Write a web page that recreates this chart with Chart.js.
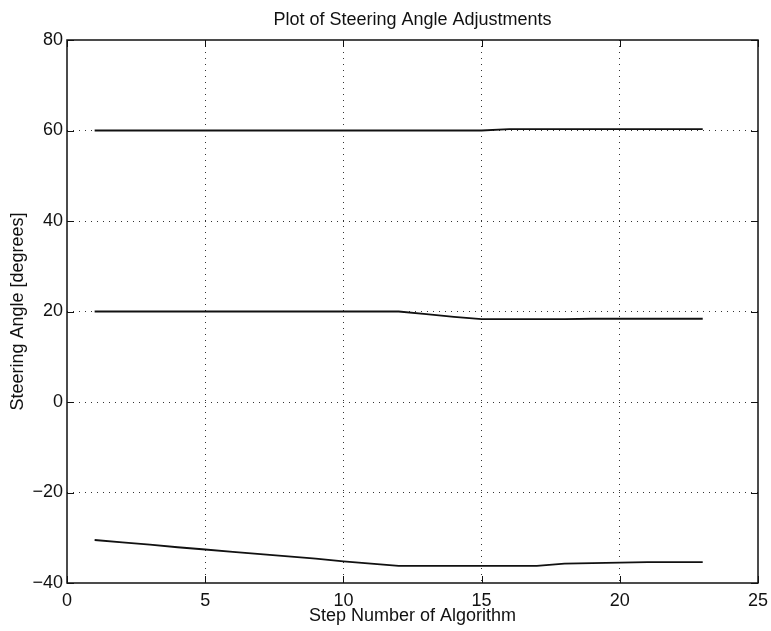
<!DOCTYPE html>
<html>
<head>
<meta charset="utf-8">
<script src="https://cdn.jsdelivr.net/npm/chart.js@4"></script>
<style>
  html, body { margin: 0; padding: 0; background: #fff; }
  #wrap { width: 771px; height: 631px; }
</style>
</head>
<body>
<div id="wrap"><canvas id="chart"></canvas></div>
<script>
const steps = [1, 2, 3, 4, 5, 6, 7, 8, 9, 10, 11, 12, 13, 14, 15, 16, 17, 18, 19, 20, 21, 22, 23];
const upperAngle = [60, 60, 60, 60, 60, 60, 60, 60, 60, 60, 60, 60, 60, 60, 60, 60.3, 60.3, 60.3, 60.3, 60.3, 60.3, 60.3, 60.3];
const middleAngle = [20, 20, 20, 20, 20, 20, 20, 20, 20, 20, 20, 20, 19.4, 18.8, 18.3, 18.3, 18.3, 18.3, 18.4, 18.4, 18.4, 18.4, 18.4];
const lowerAngle = [-30.5, -31.0, -31.5, -32.1, -32.6, -33.1, -33.6, -34.1, -34.6, -35.2, -35.7, -36.2, -36.2, -36.2, -36.2, -36.2, -36.2, -35.7, -35.6, -35.5, -35.4, -35.4, -35.4];
const xTicks = [0, 5, 10, 15, 20, 25];
const yTicks = [-40, -20, 0, 20, 40, 60, 80];

const font = "'Liberation Sans', Arial, Helvetica, sans-serif";

function pts(vals) {
    return steps.map((s, i) => ({ x: s, y: vals[i] }));
}

function line(vals) {
    return {
        data: pts(vals),
        borderColor: '#111',
        borderWidth: 1.8,
        pointRadius: 0,
        tension: 0,
        fill: false
    };
}

// box round the plot and inward tick marks, like the original
const frame = {
    id: 'frame',
    afterDraw(chart) {
        const { ctx, chartArea: a, scales } = chart;
        ctx.save();
        ctx.strokeStyle = '#111';
        ctx.lineWidth = 1.5;
        ctx.strokeRect(a.left, a.top, a.right - a.left, a.bottom - a.top);
        ctx.lineWidth = 1;
        ctx.beginPath();
        xTicks.forEach(v => {
            const px = Math.round(scales.x.getPixelForValue(v)) + 0.5;
            ctx.moveTo(px, a.bottom); ctx.lineTo(px, a.bottom - 7);
            ctx.moveTo(px, a.top); ctx.lineTo(px, a.top + 7);
        });
        yTicks.forEach(v => {
            const py = Math.round(scales.y.getPixelForValue(v)) + 0.5;
            ctx.moveTo(a.left, py); ctx.lineTo(a.left + 7, py);
            ctx.moveTo(a.right, py); ctx.lineTo(a.right - 7, py);
        });
        ctx.stroke();
        ctx.restore();
    }
};

new Chart(document.getElementById('chart'), {
    type: 'line',
    data: { datasets: [line(upperAngle), line(middleAngle), line(lowerAngle)] },
    options: {
        responsive: true,
        maintainAspectRatio: false,
        animation: false,
        layout: { padding: { left: 0, right: 13, top: 0, bottom: 0 } },
        plugins: {
            legend: { display: false },
            tooltip: { enabled: false },
            title: {
                display: true,
                text: 'Plot of Steering Angle Adjustments',
                fullSize: false,
                color: '#111',
                font: { family: font, size: 18, weight: 'normal' },
                padding: { top: 9, bottom: 9.4 }
            }
        },
        scales: {
            x: {
                type: 'linear',
                min: 0, max: 25,
                afterBuildTicks: s => { s.ticks = xTicks.map(v => ({ value: v })); },
                afterFit: s => { s.height = 48; s.paddingRight = 0; s.paddingLeft = 0; },
                grid: {
                    color: c => (c.tick.value === 0 || c.tick.value === 25) ? 'rgba(0,0,0,0)' : '#333',
                    lineWidth: 1,
                    drawTicks: false
                },
                border: { display: false, dash: [1, 5] },
                ticks: { color: '#111', font: { family: font, size: 18 }, padding: 7, maxRotation: 0 },
                title: {
                    display: true,
                    text: 'Step Number of Algorithm',
                    color: '#111',
                    font: { family: font, size: 18 },
                    padding: { top: 0, bottom: 4 }
                }
            },
            y: {
                type: 'linear',
                min: -40, max: 80,
                afterBuildTicks: s => { s.ticks = yTicks.map(v => ({ value: v })); },
                afterFit: s => { s.width = 67; s.paddingTop = 0; s.paddingBottom = 0; },
                grid: {
                    color: c => (c.tick.value === -40 || c.tick.value === 80) ? 'rgba(0,0,0,0)' : '#333',
                    lineWidth: 1,
                    drawTicks: false
                },
                border: { display: false, dash: [1, 5] },
                ticks: {
                    color: '#111',
                    font: { family: font, size: 18 },
                    padding: 4,
                    callback: v => String(v).replace('-', '\u2212')
                },
                title: {
                    display: true,
                    text: 'Steering Angle [degrees]',
                    color: '#111',
                    font: { family: font, size: 18 },
                    padding: { top: 7, bottom: 0 }
                }
            }
        }
    },
    plugins: [frame]
});
</script>
</body>
</html>
